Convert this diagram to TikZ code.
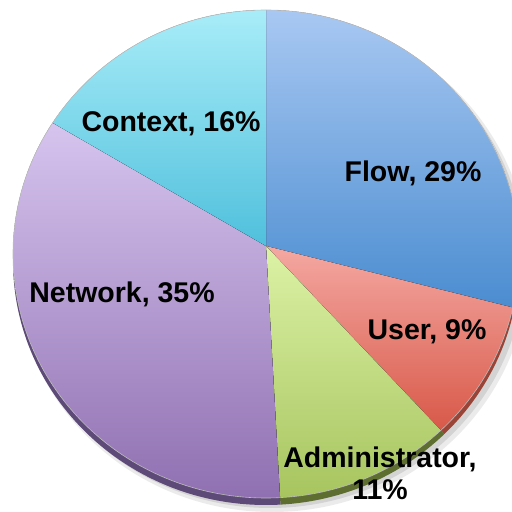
\documentclass[tikz,border=0pt]{standalone}
\usepackage{fontspec}
\setmainfont{Liberation Sans}
\definecolor{flowtop}{HTML}{A8C8F2}
\definecolor{flowbot}{HTML}{4A8CD0}
\definecolor{usertop}{HTML}{F4A8A2}
\definecolor{userbot}{HTML}{D85848}
\definecolor{admintop}{HTML}{DCF2A6}
\definecolor{adminbot}{HTML}{A6C45E}
\definecolor{nettop}{HTML}{D6C4EE}
\definecolor{netbot}{HTML}{8E6EB0}
\definecolor{ctxtop}{HTML}{A8ECF8}
\definecolor{ctxbot}{HTML}{50C0DC}
\tikzset{
  slicelabel/.style={font=\bfseries\fontsize{28.5}{32}\selectfont, text=black, inner sep=0pt},
  pieface/.style={x radius=253, y radius=244}
}
\begin{document}
\begin{tikzpicture}[x=1pt,y=1pt]
  \useasboundingbox (0,0) rectangle (512,512);
  \coordinate (V) at (266,266);
  \coordinate (C) at (266,258);
  \coordinate (S) at (266,251);
  % shadow under the pie
  \fill[black,opacity=0.08] (272,248) ellipse[x radius=257,y radius=248];
  \fill[black,opacity=0.10] (270,250) ellipse[x radius=255,y radius=246];
  % side of the pie
  \foreach \a/\b/\c in {90/-14/3A6FA8, -14/-46.5/9A4438, -46.5/-86.8/5E6E30, -86.8/-210/5E4A78, -210/-270/3A8CA4}{
    \begin{scope}
      \clip (V) -- ++(\a:700) arc[start angle=\a, end angle=\b, radius=700] -- cycle;
      \definecolor{sidecol}{HTML}{\c}
      \fill[sidecol] (S) ellipse[pieface];
    \end{scope}
  }
  % slices
  \foreach \a/\b/\ct/\cb/\ya/\yb in {90/-14/flowtop/flowbot/202/502, -14/-46.5/usertop/userbot/80/266, -46.5/-86.8/admintop/adminbot/12/266, -86.8/-210/nettop/netbot/7/389, -210/-270/ctxtop/ctxbot/266/502}{
    \begin{scope}
      \clip (V) -- ++(\a:700) arc[start angle=\a, end angle=\b, radius=700] -- cycle;
      \clip (C) ellipse[pieface];
      \fill[top color=\ct, bottom color=\cb] (0,\ya) rectangle (520,\yb);
    \end{scope}
  }
  \draw[black!25,line width=0.6] (C) ellipse[pieface];
  % labels
  \node[slicelabel, anchor=base] (context) at (171,380) {Context, 16\%};
  \node[slicelabel, anchor=base] (flow) at (413,330) {Flow, 29\%};
  \node[slicelabel, anchor=base] (network) at (122,209) {Network, 35\%};
  \node[slicelabel, anchor=base] (user) at (427,172) {User, 9\%};
  \node[slicelabel, align=center] (admin) at (380,39) {Administrator,\\11\%};
\end{tikzpicture}
\end{document}
